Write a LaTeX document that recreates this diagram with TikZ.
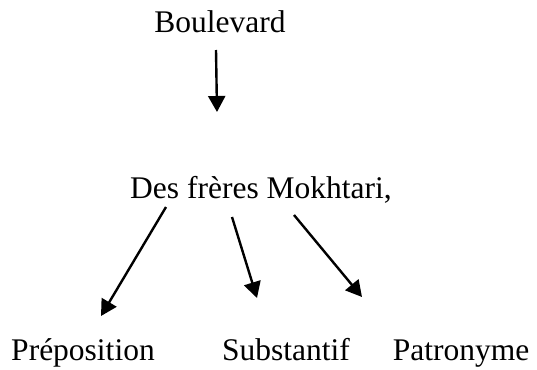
\documentclass[tikz,border=0pt]{standalone}
\usepackage{fontspec}
\setmainfont{Liberation Serif}
\usetikzlibrary{arrows.meta}
\begin{document}
\begin{tikzpicture}[x=1pt,y=-1pt,
  word/.style={anchor=base,inner sep=0pt,font=\fontsize{31.5}{37}\selectfont},
  link/.style={line width=2.4pt,-{Triangle[length=16pt,width=17pt]}}]
\useasboundingbox (0,0) rectangle (537,369);
\node[word] (blvd) at (220,33) {Boulevard};
\node[word] (dfm) at (261,198) {Des frères Mokhtari,};
\node[word] (prep) at (83,360) {Préposition};
\node[word] (subst) at (286,360) {Substantif};
\node[word] (patr) at (461,360) {Patronyme};
\coordinate (a1s) at (216,50);
\coordinate (a1e) at (217,112);
\coordinate (a2s) at (166,207);
\coordinate (a2e) at (101,316);
\coordinate (a3s) at (232,217);
\coordinate (a3e) at (257,298);
\coordinate (a4s) at (294,215);
\coordinate (a4e) at (362,297);
\draw[link] (a1s) -- (a1e);
\draw[link] (a2s) -- (a2e);
\draw[link] (a3s) -- (a3e);
\draw[link] (a4s) -- (a4e);
\end{tikzpicture}
\end{document}
